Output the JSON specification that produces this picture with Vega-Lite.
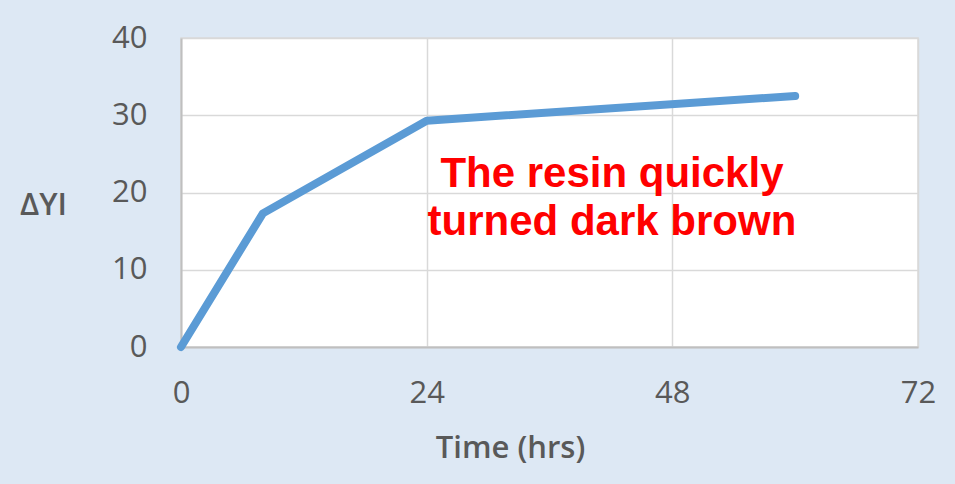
{
  "$schema": "https://vega.github.io/schema/vega-lite/v6.json",
  "width": 737,
  "height": 309,
  "autosize": "none",
  "padding": {"left": 181, "top": 38, "right": 37, "bottom": 137},
  "background": "#dde8f4",
  "config": {
    "view": {"fill": "white", "stroke": "#d9d9d9", "strokeWidth": 1.5},
    "font": "Open Sans"
  },
  "layer": [
    {
      "data": {"values": [
        {"time": 0, "dyi": 0},
        {"time": 8, "dyi": 17.3},
        {"time": 24, "dyi": 29.3},
        {"time": 60, "dyi": 32.5}
      ]},
      "mark": {"type": "line", "color": "#5b9bd5", "strokeWidth": 8, "strokeCap": "round", "strokeJoin": "round"},
      "encoding": {
        "x": {
          "field": "time", "type": "quantitative",
          "scale": {"domain": [0, 72], "nice": false},
          "axis": {
            "values": [0, 24, 48, 72],
            "title": "Time (hrs)",
            "titleFont": "Open Sans", "titleFontSize": 31, "titleFontWeight": 600, "titleColor": "#595959",
            "titleX": 329, "titleY": 101, "titleBaseline": "middle", "titleAlign": "center",
            "labelFont": "Open Sans", "labelFontSize": 31, "labelFontWeight": 500, "labelColor": "#595959",
            "labelPadding": 31, "labelFlush": false,
            "ticks": false, "domainColor": "#bfbfbf", "domainWidth": 2,
            "gridColor": "#d9d9d9", "gridWidth": 1.5
          }
        },
        "y": {
          "field": "dyi", "type": "quantitative",
          "scale": {"domain": [0, 40], "nice": false},
          "axis": {
            "values": [0, 10, 20, 30, 40],
            "title": "ΔYI",
            "titleFont": "Open Sans", "titleFontSize": 31, "titleFontWeight": 600, "titleColor": "#595959",
            "titleAngle": 0, "titleX": -138, "titleY": 167, "titleBaseline": "middle", "titleAlign": "center",
            "labelFont": "Open Sans", "labelFontSize": 31, "labelFontWeight": 500, "labelColor": "#595959",
            "labelPadding": 34, "labelFlush": false,
            "ticks": false, "domainColor": "#bfbfbf", "domainWidth": 2,
            "gridColor": "#d9d9d9", "gridWidth": 1.5
          }
        }
      }
    },
    {
      "data": {"values": [{"label": "The resin quickly\nturned dark brown"}]},
      "mark": {"type": "text", "color": "#ff0000", "font": "Liberation Sans", "fontWeight": "bold", "fontSize": 42, "lineBreak": "\n", "lineHeight": 48, "align": "center", "baseline": "alphabetic"},
      "encoding": {
        "text": {"field": "label"},
        "x": {"datum": 42.1},
        "y": {"datum": 20.7}
      }
    }
  ]
}
